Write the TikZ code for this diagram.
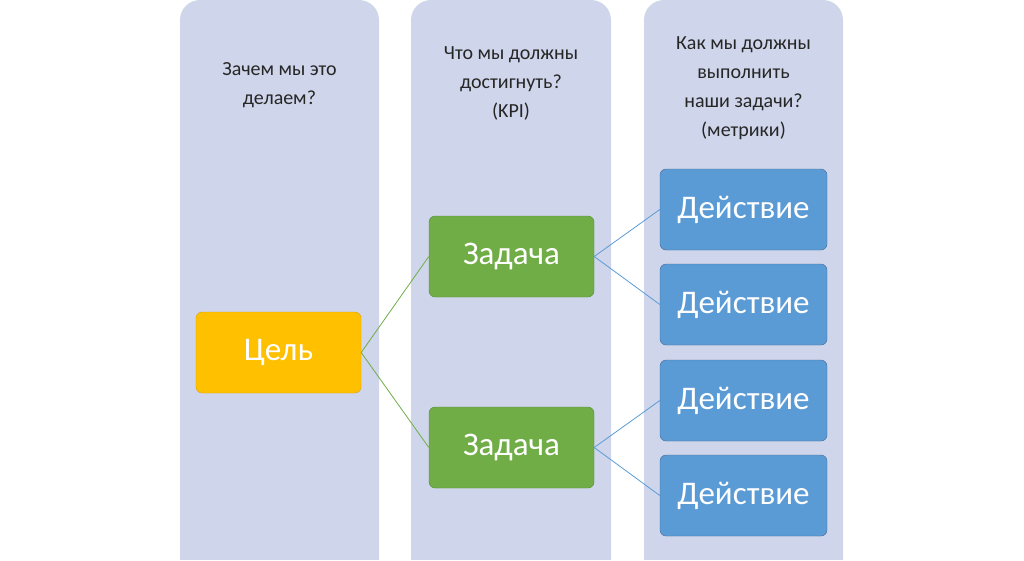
\documentclass[tikz,border=0pt]{standalone}
\usepackage{fontspec}
\setmainfont{Carlito}
\begin{document}
\begin{tikzpicture}[x=1pt,y=-1pt,
 col/.style={fill=colbg,rounded corners=20pt},
 hd/.style={align=center,font=\fontsize{20}{29}\selectfont,text=black!85},
 bx/.style={rounded corners=6pt,minimum width=165pt,minimum height=81pt,text=white,font=\fontsize{33}{38}\selectfont,inner sep=0pt},
 gl/.style={draw=boxy},
 gr/.style={fill=green1,draw=green1!80!black},
 bl/.style={fill=blue1,draw=blue1!70!black},
 lnG/.style={draw=green1,line width=0.8pt},
 lnB/.style={draw=blue1,line width=0.8pt}]
\definecolor{colbg}{HTML}{CFD5EA}
\definecolor{gold}{HTML}{FFC000}
\definecolor{green1}{HTML}{70AD47}
\definecolor{blue1}{HTML}{5B9BD5}
\useasboundingbox (0,0) rectangle (1024,560);
\fill[colbg,rounded corners=20pt] (180,0) rectangle (379,580);
\fill[colbg,rounded corners=20pt] (411,0) rectangle (611,580);
\fill[colbg,rounded corners=20pt] (644,0) rectangle (843,580);
\fill[white] (0,560) rectangle (1024,580);
\node[hd] (h1) at (279.5,85) {Зачем мы это\\делаем?};
\node[hd] (h2) at (511,83) {Что мы должны\\достигнуть?\\(KPI)};
\node[hd] (h3) at (743.5,88) {Как мы должны\\выполнить\\наши задачи?\\(метрики)};
\node[bx,fill=gold,draw=gold!85!black] (c) at (278.5,352.5) {Цель};
\node[bx,gr] (z1) at (511.5,256.5) {Задача};
\node[bx,gr] (z2) at (511.5,447.5) {Задача};
\node[bx,bl,minimum width=167pt] (d1) at (743.5,209.5) {Действие};
\node[bx,bl,minimum width=167pt] (d2) at (743.5,304.5) {Действие};
\node[bx,bl,minimum width=167pt] (d3) at (743.5,400.5) {Действие};
\node[bx,bl,minimum width=167pt] (d4) at (743.5,495.5) {Действие};
\draw[lnG] (c.east) -- (z1.west);
\draw[lnG] (c.east) -- (z2.west);
\draw[lnB] (z1.east) -- (d1.west);
\draw[lnB] (z1.east) -- (d2.west);
\draw[lnB] (z2.east) -- (d3.west);
\draw[lnB] (z2.east) -- (d4.west);
\end{tikzpicture}
\end{document}
